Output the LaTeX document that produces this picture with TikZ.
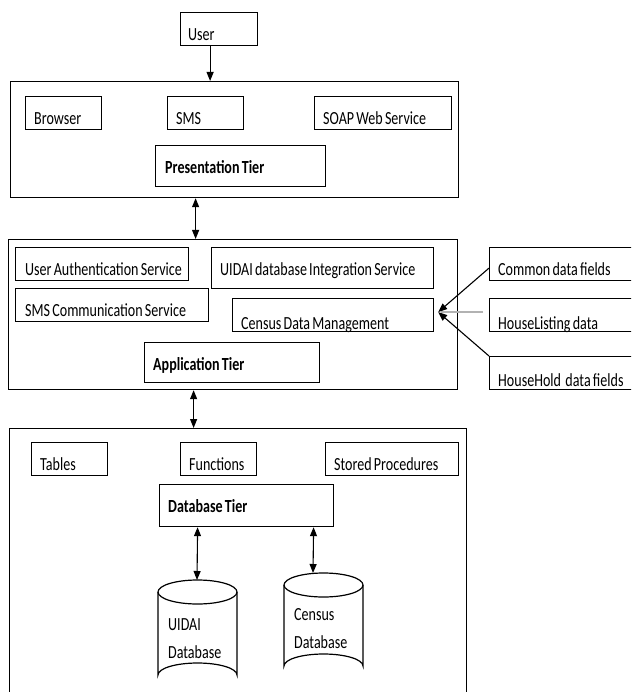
\documentclass[tikz,border=0pt]{standalone}
\usepackage{fontspec}
\setmainfont{Carlito}[FakeStretch=0.76,WordSpace=0.7]
\usetikzlibrary{arrows.meta}
\tikzset{
  box/.style={draw=black, line width=1.2pt, inner sep=0pt},
  lbl/.style={anchor=base west, inner sep=0pt, font=\fontsize{18.5}{20}\selectfont},
  blbl/.style={anchor=base west, inner sep=0pt, font=\fontsize{18.5}{20}\selectfont\bfseries},
  tipa/.tip={Triangle[length=9pt,width=7pt]},
  conn/.style={line width=1.1pt, -tipa},
  dconn/.style={line width=1.1pt, tipa-tipa},
  cyl/.style={draw=black, line width=1.2pt},
}
\newcommand\mkbox[5]{%
  \node[box, anchor=north west, minimum width={(#4-#2)*1pt}, minimum height={(#5-#3)*1pt}] (#1) at (#2,#3) {};}
\begin{document}
\begin{tikzpicture}[x=1pt,y=-1pt]
\clip (0,0) rectangle (631,692);
\fill[white] (0,0) rectangle (631,692);
% outer tiers
\mkbox{pres}{10}{81}{458}{197}
\mkbox{app}{8}{239}{457}{389}
\mkbox{db}{9}{428}{466}{720}
% user
\mkbox{user}{180}{12}{257}{45}
\node[lbl] at ([shift={(8,-6)}]user.south west) {User};
% presentation tier
\mkbox{browser}{25}{96}{101}{129}
\node[lbl] at ([shift={(9,-6)}]browser.south west) {Browser};
\mkbox{sms}{167}{96}{243}{129}
\node[lbl] at ([shift={(9,-6)}]sms.south west) {SMS};
\mkbox{soap}{314}{96}{451}{129}
\node[lbl] at ([shift={(9,-6)}]soap.south west) {SOAP Web Service};
\mkbox{ptier}{155}{145}{325}{186}
\node[blbl] at ([shift={(10,-14)}]ptier.south west) {Presentation Tier};
% application tier
\mkbox{uas}{15}{247}{188}{280}
\node[lbl] at ([shift={(10,-6)}]uas.south west) {User Authentication Service};
\mkbox{uint}{211}{247}{433}{288}
\node[lbl] at ([shift={(9,-14)}]uint.south west) {UIDAI database Integration Service};
\mkbox{smsc}{15}{288}{208}{321}
\node[lbl] at ([shift={(10,-6)}]smsc.south west) {SMS Communication Service};
\mkbox{census}{232}{298}{433}{331}
\node[lbl] at ([shift={(9,-3)}]census.south west) {Census Data Management};
\mkbox{atier}{144}{342}{319}{382}
\node[blbl] at ([shift={(9,-13)}]atier.south west) {Application Tier};
% right boxes
\mkbox{common}{489}{247}{640}{280}
\node[lbl] at ([shift={(9,-6)}]common.south west) {Common data fields};
\mkbox{hl}{489}{298}{640}{331}
\node[lbl] at ([shift={(9,-3)}]hl.south west) {HouseListing data};
\mkbox{hh}{489}{356}{640}{389}
\node[lbl] at ([shift={(9,-4)}]hh.south west) {HouseHold\ \ data fields};
% database tier
\mkbox{tables}{31}{442}{107}{475}
\node[lbl] at ([shift={(9,-6)}]tables.south west) {Tables};
\mkbox{func}{180}{442}{256}{475}
\node[lbl] at ([shift={(9,-6)}]func.south west) {Functions};
\mkbox{sp}{325}{442}{458}{475}
\node[lbl] at ([shift={(9,-6)}]sp.south west) {Stored Procedures};
\mkbox{dbt}{159}{484}{333}{526}
\node[blbl] at ([shift={(9,-15)}]dbt.south west) {Database Tier};
% cylinders
\draw[cyl] (158,592) -- (158,675) arc[start angle=180, end angle=360, x radius=39.5, y radius=12] -- (237,592);
\draw[cyl] (197.5,592) ellipse[x radius=39.5, y radius=12];
\coordinate (uidaidb) at (197,580);
\node[lbl] at (168,630) {UIDAI};
\node[lbl] at (168,658) {Database};
\draw[cyl] (284,585) -- (284,666) arc[start angle=180, end angle=360, x radius=39.5, y radius=12] -- (363,585);
\draw[cyl] (323.5,585) ellipse[x radius=39.5, y radius=12];
\coordinate (censusdb) at (313,573);
\node[lbl] at (294,620) {Census};
\node[lbl] at (294,648) {Database};
% connectors
\draw[conn] ([xshift=-9]user.south) -- ([xshift=-9]user.south |- pres.north);
\draw[dconn] ([xshift=-39]pres.south) -- ([xshift=-39]pres.south |- app.north);
\draw[dconn] ([xshift=-39.5]app.south) -- ([xshift=-39.5]app.south |- db.north);
\draw[dconn] ([xshift=-49]dbt.south) -- (uidaidb);
\draw[dconn] ([xshift=67]dbt.south) -- (censusdb);
\coordinate (tip) at ([shift={(4,-3)}]census.east);
\draw[line width=2.6pt, gray!60] ([xshift=-6]hl.west |- tip) -- ([xshift=3]tip);
\draw[conn] ([shift={(0,4)}]common.west) -- (tip);
\draw[conn] (hh.north west) -- (tip);
\end{tikzpicture}
\end{document}
